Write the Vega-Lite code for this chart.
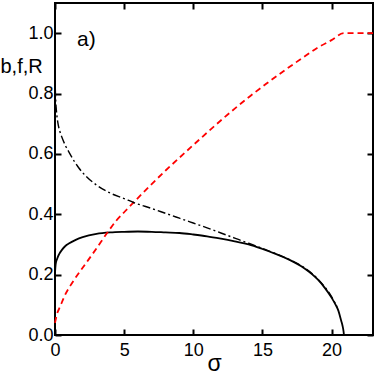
{
  "$schema": "https://vega.github.io/schema/vega-lite/v6.json",
  "width": 318,
  "height": 332,
  "autosize": "none",
  "padding": {"left": 55, "top": 3, "right": 1, "bottom": 39},
  "background": "white",
  "config": {
    "view": {"stroke": "black", "strokeWidth": 2},
    "axis": {
      "ticks": false,
      "domain": false,
      "grid": true,
      "gridColor": "black",
      "gridOpacity": 1,
      "gridWidth": 2,
      "labelFont": "Liberation Sans",
      "labelFontSize": 18,
      "labelColor": "black",
      "labelOverlap": false,
      "labelFlush": false,
      "titleFont": "Liberation Sans",
      "titleFontWeight": "normal",
      "titleColor": "black"
    }
  },
  "datasets": {
    "curves": [
      {"s": 0, "v": 0.205, "c": "b"},
      {"s": 0.05, "v": 0.235, "c": "b"},
      {"s": 0.15, "v": 0.252, "c": "b"},
      {"s": 0.3, "v": 0.268, "c": "b"},
      {"s": 0.5, "v": 0.282, "c": "b"},
      {"s": 0.75, "v": 0.295, "c": "b"},
      {"s": 1, "v": 0.303, "c": "b"},
      {"s": 1.5, "v": 0.315, "c": "b"},
      {"s": 2, "v": 0.324, "c": "b"},
      {"s": 3, "v": 0.335, "c": "b"},
      {"s": 4, "v": 0.34, "c": "b"},
      {"s": 5, "v": 0.342, "c": "b"},
      {"s": 6, "v": 0.343, "c": "b"},
      {"s": 7, "v": 0.342, "c": "b"},
      {"s": 8, "v": 0.34, "c": "b"},
      {"s": 9, "v": 0.338, "c": "b"},
      {"s": 10, "v": 0.333, "c": "b"},
      {"s": 11, "v": 0.327, "c": "b"},
      {"s": 12, "v": 0.319, "c": "b"},
      {"s": 13, "v": 0.31, "c": "b"},
      {"s": 14, "v": 0.3, "c": "b"},
      {"s": 15, "v": 0.285, "c": "b"},
      {"s": 16, "v": 0.268, "c": "b"},
      {"s": 17, "v": 0.248, "c": "b"},
      {"s": 18, "v": 0.222, "c": "b"},
      {"s": 19, "v": 0.184, "c": "b"},
      {"s": 19.5, "v": 0.157, "c": "b"},
      {"s": 20, "v": 0.124, "c": "b"},
      {"s": 20.3, "v": 0.1, "c": "b"},
      {"s": 20.5, "v": 0.08, "c": "b"},
      {"s": 20.7, "v": 0.047, "c": "b"},
      {"s": 20.8, "v": 0.03, "c": "b"},
      {"s": 20.87, "v": 0.012, "c": "b"},
      {"s": 20.9, "v": 0, "c": "b"},
      {"s": 0, "v": 0.04, "c": "f"},
      {"s": 0.15, "v": 0.07, "c": "f"},
      {"s": 0.36, "v": 0.093, "c": "f"},
      {"s": 0.7, "v": 0.13, "c": "f"},
      {"s": 1.2, "v": 0.17, "c": "f"},
      {"s": 1.8, "v": 0.21, "c": "f"},
      {"s": 2.4, "v": 0.248, "c": "f"},
      {"s": 3, "v": 0.287, "c": "f"},
      {"s": 3.74, "v": 0.336, "c": "f"},
      {"s": 4.4, "v": 0.377, "c": "f"},
      {"s": 5.07, "v": 0.41, "c": "f"},
      {"s": 5.68, "v": 0.439, "c": "f"},
      {"s": 6.88, "v": 0.495, "c": "f"},
      {"s": 8, "v": 0.545, "c": "f"},
      {"s": 9.3, "v": 0.6, "c": "f"},
      {"s": 10.5, "v": 0.65, "c": "f"},
      {"s": 11.7, "v": 0.699, "c": "f"},
      {"s": 13, "v": 0.75, "c": "f"},
      {"s": 14.13, "v": 0.792, "c": "f"},
      {"s": 15.3, "v": 0.833, "c": "f"},
      {"s": 16.55, "v": 0.875, "c": "f"},
      {"s": 17.8, "v": 0.915, "c": "f"},
      {"s": 18.96, "v": 0.951, "c": "f"},
      {"s": 20, "v": 0.977, "c": "f"},
      {"s": 20.9, "v": 1.0, "c": "f"},
      {"s": 23, "v": 1.0, "c": "f"},
      {"s": 0, "v": 0.87, "c": "R"},
      {"s": 0.02, "v": 0.82, "c": "R"},
      {"s": 0.05, "v": 0.78, "c": "R"},
      {"s": 0.1, "v": 0.745, "c": "R"},
      {"s": 0.2, "v": 0.705, "c": "R"},
      {"s": 0.35, "v": 0.675, "c": "R"},
      {"s": 0.5, "v": 0.655, "c": "R"},
      {"s": 0.75, "v": 0.628, "c": "R"},
      {"s": 1, "v": 0.607, "c": "R"},
      {"s": 1.4, "v": 0.575, "c": "R"},
      {"s": 1.7, "v": 0.555, "c": "R"},
      {"s": 2.2, "v": 0.528, "c": "R"},
      {"s": 3, "v": 0.497, "c": "R"},
      {"s": 4, "v": 0.47, "c": "R"},
      {"s": 5, "v": 0.452, "c": "R"},
      {"s": 5.68, "v": 0.439, "c": "R"},
      {"s": 7, "v": 0.419, "c": "R"},
      {"s": 8, "v": 0.403, "c": "R"},
      {"s": 9, "v": 0.387, "c": "R"},
      {"s": 10, "v": 0.371, "c": "R"},
      {"s": 11, "v": 0.355, "c": "R"},
      {"s": 12, "v": 0.338, "c": "R"},
      {"s": 13, "v": 0.321, "c": "R"},
      {"s": 14, "v": 0.304, "c": "R"},
      {"s": 14.6, "v": 0.294, "c": "R"},
      {"s": 15, "v": 0.287, "c": "R"},
      {"s": 16, "v": 0.269, "c": "R"},
      {"s": 17, "v": 0.249, "c": "R"},
      {"s": 18, "v": 0.224, "c": "R"},
      {"s": 19, "v": 0.186, "c": "R"},
      {"s": 19.5, "v": 0.16, "c": "R"},
      {"s": 20, "v": 0.127, "c": "R"},
      {"s": 20.4, "v": 0.093, "c": "R"}
    ],
    "notes": [{"label": "a)"}]
  },
  "data": {"name": "curves"},
  "layer": [
    {
      "transform": [{"filter": "datum.c === 'b'"}],
      "mark": {"type": "line", "color": "black", "strokeWidth": 1.8, "interpolate": "monotone"},
      "encoding": {
        "x": {
          "field": "s", "type": "quantitative",
          "scale": {"domain": [0, 23], "nice": false, "zero": false},
          "axis": {
            "orient": "bottom",
            "values": [0, 2.5, 5, 7.5, 10, 12.5, 15, 17.5, 20, 22.5],
            "labelExpr": "datum.value % 5 === 0 ? format(datum.value, 'd') : ''",
            "gridDash": [6, 320, 6, 400],
            "labelPadding": 6,
            "title": "σ",
            "titleFontSize": 23,
            "titleBaseline": "alphabetic",
            "titleY": 35
          }
        },
        "y": {
          "field": "v", "type": "quantitative",
          "scale": {"domain": [0, 1.1], "nice": false, "zero": false},
          "axis": {
            "orient": "left",
            "values": [0, 0.1, 0.2, 0.3, 0.4, 0.5, 0.6, 0.7, 0.8, 0.9, 1.0],
            "labelExpr": "abs(datum.value * 5 - round(datum.value * 5)) < 0.001 ? format(datum.value, '.1f') : ''",
            "gridDash": [6, 306, 6, 400],
            "labelPadding": 2,
            "title": "b,f,R",
            "titleFontSize": 20,
            "titleAngle": 0,
            "titleAlign": "left",
            "titleBaseline": "alphabetic",
            "titleX": -55,
            "titleY": 69
          }
        }
      }
    },
    {
      "transform": [{"filter": "datum.c === 'f'"}],
      "mark": {"type": "line", "color": "#ff0000", "strokeWidth": 1.8, "strokeDash": [6, 4], "interpolate": "monotone"},
      "encoding": {
        "x": {"field": "s", "type": "quantitative"},
        "y": {"field": "v", "type": "quantitative"}
      }
    },
    {
      "transform": [{"filter": "datum.c === 'R'"}],
      "mark": {"type": "line", "color": "black", "strokeWidth": 1.4, "strokeDash": [8, 3, 2, 3], "interpolate": "monotone"},
      "encoding": {
        "x": {"field": "s", "type": "quantitative"},
        "y": {"field": "v", "type": "quantitative"}
      }
    },
    {
      "data": {"name": "notes"},
      "mark": {"type": "text", "align": "left", "baseline": "alphabetic", "font": "Liberation Sans", "fontSize": 21, "color": "black"},
      "encoding": {
        "x": {"datum": 1.6, "type": "quantitative"},
        "y": {"datum": 0.956, "type": "quantitative"},
        "text": {"field": "label"}
      }
    }
  ]
}
